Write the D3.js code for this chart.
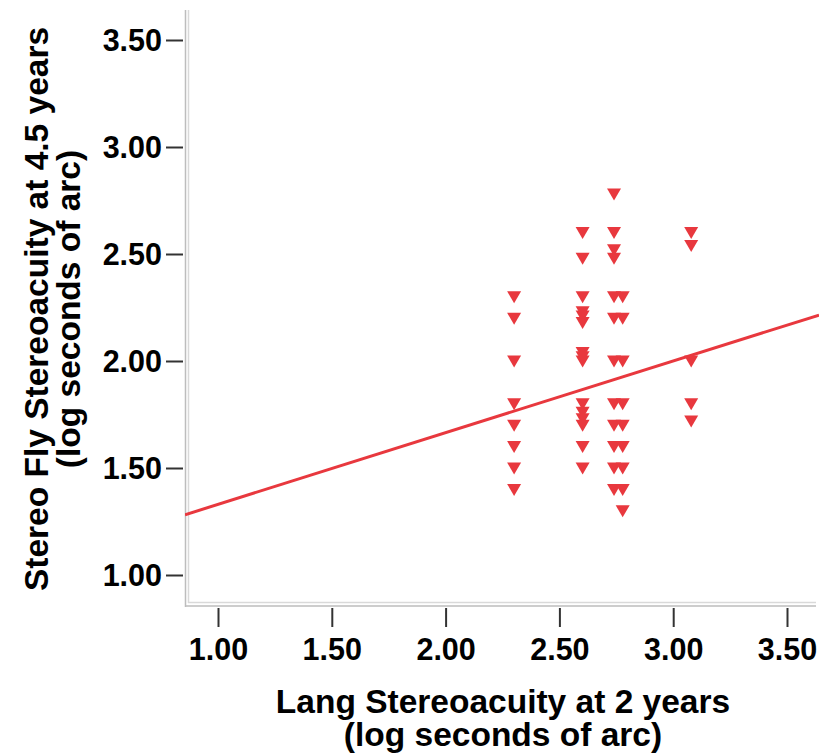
<!DOCTYPE html>
<html>
<head>
<meta charset="utf-8">
<script src="https://cdn.jsdelivr.net/npm/d3@7"></script>
<style>
  html, body { margin: 0; padding: 0; background: #fff; }
  svg { display: block; }
  text { font-family: "Liberation Sans", Arial, sans-serif; fill: #000; }
</style>
</head>
<body>
<script>
// Lang stereoacuity at 2 years (log arcsec), one entry per column of points
const langValues = [2.301, 2.602, 2.740, 2.778, 3.079];
// Stereo Fly stereoacuity at 4.5 years (log arcsec) for each Lang column
const flyValues = [
  [2.30, 2.20, 2.00, 1.80, 1.70, 1.60, 1.50, 1.40],
  [2.60, 2.48, 2.30, 2.23, 2.21, 2.18, 2.04, 2.02, 2.00, 1.80, 1.76, 1.73, 1.70, 1.60, 1.50],
  [2.78, 2.60, 2.52, 2.48, 2.30, 2.20, 2.00, 1.80, 1.70, 1.60, 1.50, 1.40],
  [2.30, 2.20, 2.00, 1.80, 1.70, 1.60, 1.50, 1.40, 1.30],
  [2.60, 2.54, 2.00, 1.80, 1.72]
];
const xTicks = [1.00, 1.50, 2.00, 2.50, 3.00, 3.50];
const yTicks = [1.00, 1.50, 2.00, 2.50, 3.00, 3.50];
// Linear fit line: fly = intercept + slope * lang
const fitIntercept = 0.995;
const fitSlope = 0.335;

const xTitle = ["Lang Stereoacuity at 2 years", "(log seconds of arc)"];
const yTitle = ["Stereo Fly Stereoacuity at 4.5 years", "(log seconds of arc)"];

const W = 819, H = 754;
const red = "#e8383e";

const svg = d3.select("body").append("svg").attr("width", W).attr("height", H);

const x = d3.scaleLinear().domain([1.0, 3.5]).range([218, 787]);
const y = d3.scaleLinear().domain([1.0, 3.5]).range([575, 40]);

// plot frame edges
const frameL = 185, frameR = 816, frameT = 10, frameB = 603;
const clipR = 819;
const xMin = x.invert(frameL), xMax = x.invert(clipR);

svg.append("defs").append("clipPath").attr("id", "plot")
  .append("rect").attr("x", frameL).attr("y", frameT)
  .attr("width", clipR - frameL).attr("height", frameB - frameT);

// axis frame: double grey rule on the left and bottom
const frame = svg.append("g");
frame.append("line").attr("x1", frameL + 0.5).attr("x2", frameL + 0.5).attr("y1", frameT).attr("y2", frameB + 4)
  .attr("stroke", "#bdbdbd").attr("stroke-width", 1.5);
frame.append("line").attr("x1", frameL + 3.5).attr("x2", frameL + 3.5).attr("y1", frameT).attr("y2", frameB)
  .attr("stroke", "#d9d9d9").attr("stroke-width", 1.5);
frame.append("line").attr("x1", frameL + 3).attr("x2", frameR).attr("y1", frameB - 0.5).attr("y2", frameB - 0.5)
  .attr("stroke", "#d9d9d9").attr("stroke-width", 1.5);
frame.append("line").attr("x1", frameL).attr("x2", frameR).attr("y1", frameB + 3).attr("y2", frameB + 3)
  .attr("stroke", "#bdbdbd").attr("stroke-width", 1.5);

// y axis
const yAxis = d3.axisLeft(y).tickValues(yTicks).tickFormat(d3.format(".2f"))
  .tickSize(17).tickPadding(4);
const gy = svg.append("g").attr("transform", `translate(${frameL - 2},0)`).call(yAxis);
gy.select(".domain").remove();
gy.selectAll(".tick line").attr("stroke", "#333").attr("stroke-width", 2);
gy.selectAll(".tick text").attr("font-size", 30.5).attr("font-weight", "bold")
  .attr("font-family", "Liberation Sans, Arial, sans-serif").attr("fill", "#000").attr("dy", "0.36em");

// x axis
const xAxis = d3.axisBottom(x).tickValues(xTicks).tickFormat(d3.format(".2f"))
  .tickSize(19).tickPadding(11);
const gx = svg.append("g").attr("transform", `translate(0,${frameB + 5})`).call(xAxis);
gx.select(".domain").remove();
gx.selectAll(".tick line").attr("stroke", "#333").attr("stroke-width", 2);
gx.selectAll(".tick text").attr("font-size", 30.5).attr("font-weight", "bold")
  .attr("font-family", "Liberation Sans, Arial, sans-serif").attr("fill", "#000");

// fit line
const plot = svg.append("g").attr("clip-path", "url(#plot)");
plot.append("line")
  .attr("x1", x(xMin)).attr("y1", y(fitIntercept + fitSlope * xMin))
  .attr("x2", x(xMax)).attr("y2", y(fitIntercept + fitSlope * xMax))
  .attr("stroke", red).attr("stroke-width", 3);

// points: downward triangles
const pts = [];
langValues.forEach((lx, i) => flyValues[i].forEach(fy => pts.push({ lx, fy })));
const tri = "M-7,-5.5 L7,-5.5 L0,6.5 Z";
plot.selectAll("path.pt").data(pts).enter().append("path")
  .attr("class", "pt")
  .attr("d", tri)
  .attr("transform", d => `translate(${x(d.lx)},${y(d.fy)})`)
  .attr("fill", red);

// axis titles
const xt = svg.append("text").attr("text-anchor", "middle").attr("font-size", 33.5).attr("font-weight", "bold");
xt.selectAll("tspan").data(xTitle).enter().append("tspan")
  .attr("x", 503).attr("y", (d, i) => 713 + i * 33).text(d => d);

const yt = svg.append("text").attr("text-anchor", "middle").attr("font-size", 33.5).attr("font-weight", "bold")
  .attr("transform", "translate(0,309) rotate(-90)");
yt.selectAll("tspan").data(yTitle).enter().append("tspan")
  .attr("x", 0).attr("y", (d, i) => 48 + i * 32).text(d => d);
</script>
</body>
</html>
